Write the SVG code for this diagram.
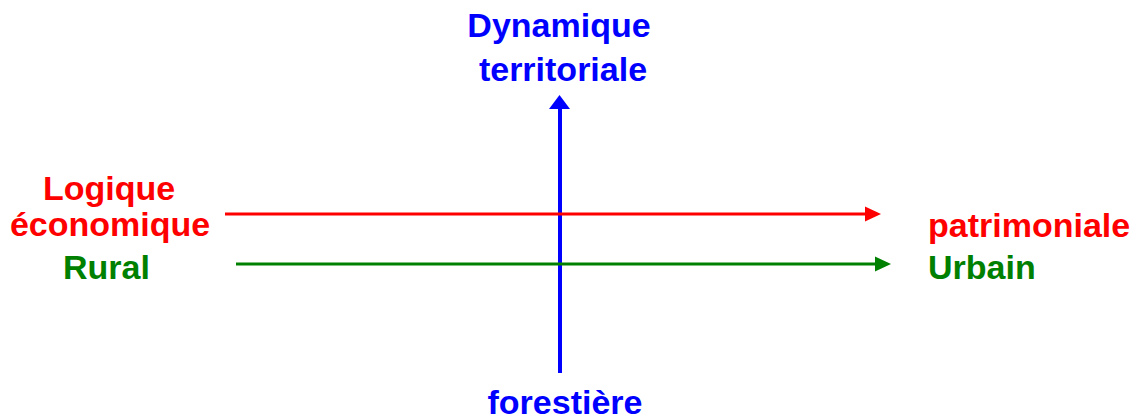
<svg xmlns="http://www.w3.org/2000/svg" width="1135" height="419" viewBox="0 0 1135 419">
<style>
text{font-family:"Liberation Sans",Arial,sans-serif;font-weight:bold;font-size:34px}
.b{fill:#0000ff}.r{fill:#ff0000}.g{fill:#008000}
</style>
<rect width="1135" height="419" fill="#ffffff"/>
<g id="connectors">
<line x1="560" y1="373" x2="560" y2="106" stroke="#0000ff" stroke-width="4"/>
<polygon points="559.5,95 570,109 549,109" fill="#0000ff"/>
<line x1="225" y1="214" x2="866" y2="214" stroke="#ff0000" stroke-width="3"/>
<polygon points="881,214 865,206.5 865,221.5" fill="#ff0000"/>
<line x1="236" y1="264" x2="876" y2="264" stroke="#008000" stroke-width="3"/>
<polygon points="891,264 875,256.5 875,271.5" fill="#008000"/>
</g>
<g id="top"><text class="b" x="559" y="37" text-anchor="middle">Dynamique</text><text class="b" x="563" y="81" text-anchor="middle">territoriale</text></g>
<g id="bottom"><text class="b" x="565" y="414" text-anchor="middle">forestière</text></g>
<g id="left"><text class="r" x="109" y="200" text-anchor="middle">Logique</text><text class="r" x="110" y="236" text-anchor="middle">économique</text><text class="g" x="63" y="279">Rural</text></g>
<g id="right"><text class="r" x="928" y="237">patrimoniale</text><text class="g" x="928" y="279">Urbain</text></g>
</svg>
